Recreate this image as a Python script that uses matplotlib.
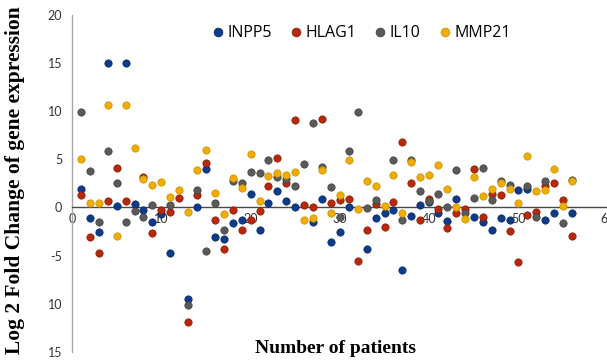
import numpy as np
import matplotlib
matplotlib.use("Agg")
import matplotlib.pyplot as plt

nan = np.nan

# patient index 1..56
patients = list(range(1, 57))

inpp5 = [1.9, -1.1, -2.5, 15.0, 0.2, 15.0, 0.4, -0.25, -1.5, -0.65,
         -4.7, nan, -9.5, 0.0, 4.0, -3.1, -3.3, -1.6, -1.35, 1.4,
         -2.3, 0.5, 1.7, 0.65, 0.0, nan, -1.5, 0.85, -3.6, -2.5,
         0.0, nan, -4.3, -1.1, -0.6, -0.25, -6.5, -0.85, 0.3, 0.55,
         -0.6, -1.45, 0.9, nan, -1.0, -1.5, -2.3, -1.1, -1.3, 1.8,
         1.9, nan, -1.3, -0.55, nan, -0.55]

hlag1 = [1.25, -3.1, -4.7, 0.7, 4.1, 0.7, nan, 3.2, -2.7, -0.3,
         -0.5, 1.0, -11.9, 1.3, 4.6, -1.3, -4.3, -0.3, -2.3, -1.3,
         -0.4, 2.2, 5.1, 2.5, 9.1, 0.25, 0.05, 9.2, 0.45, 0.8,
         0.9, -5.6, -2.3, 0.35, -2.05, 0.55, 6.8, 2.5, -1.3, 0.9,
         -0.15, -2.1, -0.6, -0.15, 4.0, -1.0, 1.35, 1.25, -2.45, -5.65,
         -0.75, -0.5, 2.2, 2.5, 0.8, -3.0]

il10 = [9.9, 3.8, -1.5, 5.9, 2.5, -1.5, -0.4, -0.95, 0.3, nan,
        0.3, nan, -10.1, 1.85, -4.5, 0.45, -2.3, 2.8, 2.5, 3.7,
        3.6, 4.9, 3.2, 3.0, 2.2, 4.5, 8.8, 4.2, 2.1, -1.0,
        5.9, 9.9, -0.05, 0.8, nan, 4.9, -1.35, 4.9, 1.7, 0.65,
        1.4, 0.0, 3.85, -0.6, 1.0, 4.1, 0.8, 2.7, 2.3, nan,
        2.2, -1.0, 2.8, nan, -1.6, 2.9]

mmp21 = [5.0, 0.5, 0.5, 10.7, -3.0, 10.7, 6.2, 3.0, 2.3, 2.6,
         1.05, 1.85, -0.5, 3.85, 6.0, 1.5, -0.65, 3.1, 2.0, 5.6,
         0.7, 3.25, 3.6, 3.4, 3.7, -1.3, -1.1, 3.9, -0.6, 1.3,
         4.9, -0.15, 2.8, 2.2, 0.2, 3.4, -0.6, 4.7, 3.2, 3.4,
         4.45, 1.9, 0.0, -1.25, 3.2, 1.15, 1.95, 2.5, 1.9, 0.45,
         5.35, 1.7, 1.8, 4.0, 0.2, 2.7]

series = {"INPP5": inpp5, "HLAG1": hlag1, "IL10": il10, "MMP21": mmp21}
colors = {"INPP5": ("#0E3A8A", "#082a66"),
          "HLAG1": ("#B8280A", "#8a1c05"),
          "IL10": ("#5A5A5A", "#3f3f3f"),
          "MMP21": ("#F0AC00", "#c98f00")}

yticks = [-15, -10, -5, 0, 5, 10, 15, 20]
ytick_labels = ["15", "10", "-5", "0", "5", "10", "15", "20"]
xticks = [0, 10, 20, 30, 40, 50, 60]

fig = plt.figure(figsize=(6.07, 3.60), dpi=100)
ax = fig.add_axes([0.1186, 0.023, 0.8827, 0.935])

for name, vals in series.items():
    face, edge = colors[name]
    ax.scatter(patients, vals, s=28, color=face, edgecolors=edge,
               linewidths=0.5, label=name, zorder=3)

ax.set_xlim(0, 60)
ax.set_ylim(-15, 20)
ax.set_yticks(yticks)
ax.set_yticklabels(ytick_labels)
ax.set_xticks(xticks)

for s in ["top", "right"]:
    ax.spines[s].set_visible(False)
ax.spines["left"].set_color("#A6A6A6")
ax.spines["left"].set_linewidth(1.0)
ax.spines["bottom"].set_position(("data", 0))
ax.spines["bottom"].set_color("#4a4a4a")
ax.spines["bottom"].set_linewidth(1.0)

ax.tick_params(axis="both", length=0, labelsize=9, colors="#333333")
ax.tick_params(axis="y", pad=7)
ax.tick_params(axis="x", pad=4)
for lab in ax.get_xticklabels() + ax.get_yticklabels():
    lab.set_fontfamily("Lato")

ax.legend(loc="center", bbox_to_anchor=(0.541, 0.948), ncol=4, frameon=False,
          handlelength=0.6, handletextpad=0.3, columnspacing=1.2,
          scatterpoints=1, markerscale=1.2, prop={"family": "Open Sans", "size": 11.5})

fig.text(0.025, 0.5, "Log 2 Fold Change of gene expression", rotation=90,
         ha="center", va="center", fontsize=15.5, fontweight="bold",
         family="Liberation Serif")
fig.text(0.552, 0.033, "Number of patients", ha="center", va="center",
         fontsize=14, fontweight="bold", family="Liberation Serif")

fig.savefig("out.png", dpi=100)
